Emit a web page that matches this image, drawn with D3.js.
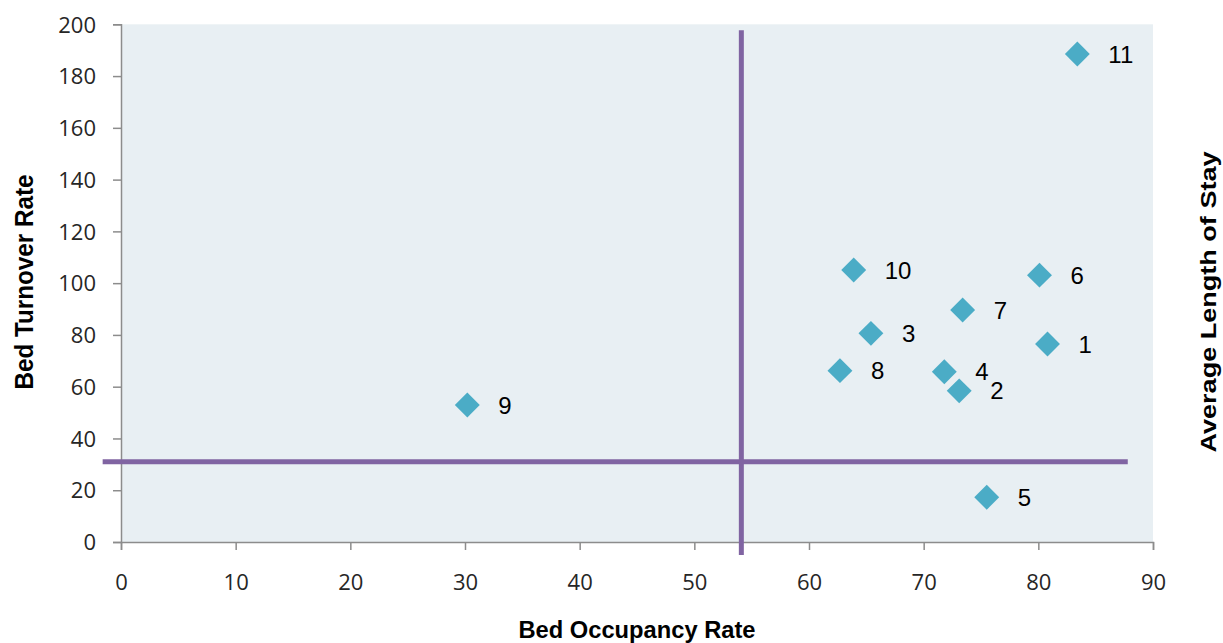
<!DOCTYPE html>
<html>
<head>
<meta charset="utf-8">
<script src="https://cdn.jsdelivr.net/npm/d3@7"></script>
<style>
  body{margin:0;background:#fff;}
  .tick text{font-family:"Open Sans",sans-serif;font-size:22px;fill:#262626;}
  .ttl{font-family:"Liberation Sans",Arial,sans-serif;font-weight:bold;fill:#000;}
  .lbl{font-family:"Liberation Sans",Arial,sans-serif;font-size:24px;fill:#000;}
</style>
</head>
<body>
<div id="chart"></div>
<script>
// hospital units: occupancy (x) vs turnover (y)
var unitIds=["1","2","3","4","5","6","7","8","9","10","11"];
var occupancy=[80.8,73.1,65.4,71.8,75.5,80.1,73.4,62.7,30.2,63.9,83.4];
var turnover=[76.5,58.4,80.6,65.8,17.3,103.1,89.6,66.2,52.9,105.1,188.5];
var xTicks=[0,10,20,30,40,50,60,70,80,90];
var yTicks=[0,20,40,60,80,100,120,140,160,180,200];
// quadrant dividers (mean lines) and how far they run
var refX=54.1, refXSpan=[-5,197.7];
var refY=31.0, refYSpan=[-1.6,87.8];

var W=1223,H=643;
var m={l:121,r:70,t:24.3,b:101};
var svg=d3.select("#chart").append("svg").attr("width",W).attr("height",H);

var x=d3.scaleLinear().domain([0,90]).range([m.l,W-m.r]);
var y=d3.scaleLinear().domain([0,200]).range([H-m.b,m.t]);

svg.append("rect").attr("x",x(0)).attr("y",y(200)).attr("width",x(90)-x(0)).attr("height",y(0)-y(200))
    .attr("fill","#E8EFF3");

var ya=svg.append("g").attr("transform","translate("+x(0)+",0)")
    .call(d3.axisLeft(y).tickValues(yTicks).tickSize(8).tickPadding(17));
var xa=svg.append("g").attr("transform","translate(0,"+y(0)+")")
    .call(d3.axisBottom(x).tickValues(xTicks).tickSize(8).tickPadding(24));
[ya,xa].forEach(function(a){
    a.select(".domain").attr("stroke","#8c8c8c").attr("stroke-width",1.5);
    a.selectAll(".tick line").attr("stroke","#8c8c8c").attr("stroke-width",1.5);
});
ya.selectAll(".tick text").attr("dy","0.35em");

// purple quadrant lines
svg.append("line").attr("x1",x(refX)).attr("x2",x(refX)).attr("y1",y(refXSpan[1])).attr("y2",y(refXSpan[0]))
    .attr("stroke","#8064A2").attr("stroke-width",5);
svg.append("line").attr("x1",x(refYSpan[0])).attr("x2",x(refYSpan[1])).attr("y1",y(refY)).attr("y2",y(refY))
    .attr("stroke","#8064A2").attr("stroke-width",5);

var pts=unitIds.map(function(id,i){return {id:id,x:occupancy[i],y:turnover[i]};});
var diamond=d3.symbol().type(d3.symbolSquare).size(310);
svg.selectAll("path.pt").data(pts).enter().append("path").attr("class","pt")
    .attr("d",diamond)
    .attr("transform",function(d){return "translate("+x(d.x)+","+y(d.y)+") rotate(45)";})
    .attr("fill","#4BACC6");
svg.selectAll("text.lbl").data(pts).enter().append("text").attr("class","lbl")
    .attr("x",function(d){return x(d.x)+31;})
    .attr("y",function(d){return y(d.y);})
    .attr("dy","0.36em")
    .text(function(d){return d.id;});

// axis titles
svg.append("text").attr("class","ttl").attr("text-anchor","middle").style("font-size","25px")
    .attr("textLength",215).attr("lengthAdjust","spacingAndGlyphs")
    .attr("transform","translate(33,282) rotate(-90)").text("Bed Turnover Rate");
svg.append("text").attr("class","ttl").attr("text-anchor","middle").style("font-size","23px")
    .attr("textLength",237).attr("lengthAdjust","spacingAndGlyphs")
    .attr("x",637).attr("y",638).text("Bed Occupancy Rate");
svg.append("text").attr("class","ttl").attr("text-anchor","middle").style("font-size","22px")
    .attr("textLength",301).attr("lengthAdjust","spacingAndGlyphs")
    .attr("transform","translate(1216,302) rotate(-90)").text("Average Length of Stay");
</script>
</body>
</html>
